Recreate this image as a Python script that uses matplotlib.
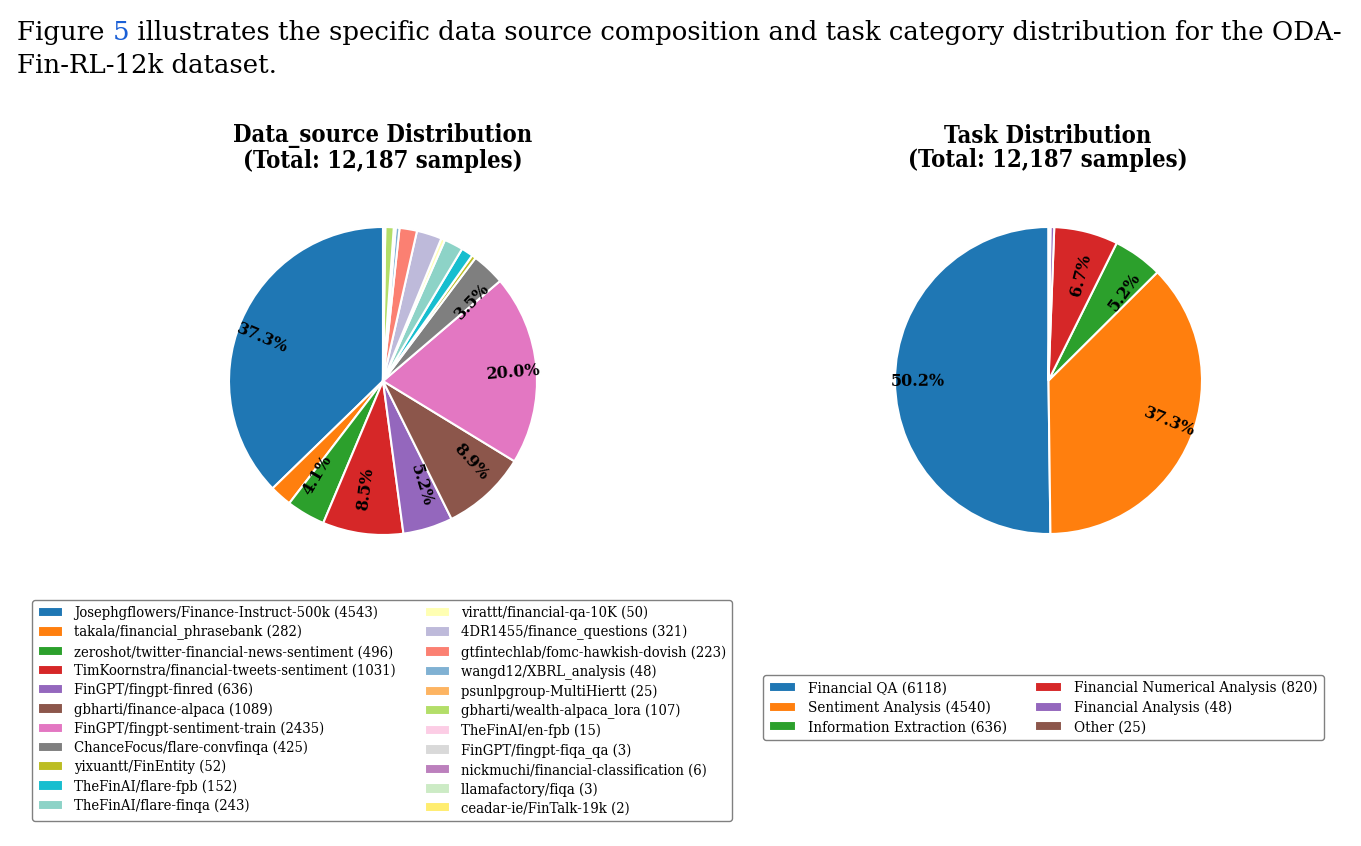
import numpy as np
import matplotlib
matplotlib.use('Agg')
from matplotlib import pyplot as plt

plt.rcParams['font.family'] = 'DejaVu Serif'
plt.rcParams['font.stretch'] = 'condensed'

# data sources, counterclockwise from the top
sources = ['Josephgflowers/Finance-Instruct-500k', 'takala/financial_phrasebank',
           'zeroshot/twitter-financial-news-sentiment', 'TimKoornstra/financial-tweets-sentiment',
           'FinGPT/fingpt-finred', 'gbharti/finance-alpaca', 'FinGPT/fingpt-sentiment-train',
           'ChanceFocus/flare-convfinqa', 'yixuantt/FinEntity', 'TheFinAI/flare-fpb',
           'TheFinAI/flare-finqa', 'virattt/financial-qa-10K', '4DR1455/finance_questions',
           'gtfintechlab/fomc-hawkish-dovish', 'wangd12/XBRL_analysis', 'psunlpgroup-MultiHiertt',
           'gbharti/wealth-alpaca_lora', 'TheFinAI/en-fpb', 'FinGPT/fingpt-fiqa_qa',
           'nickmuchi/financial-classification', 'llamafactory/fiqa', 'ceadar-ie/FinTalk-19k']
source_counts = [4543, 282, 496, 1031, 636, 1089, 2435, 425, 52, 152,
                 243, 50, 321, 223, 48, 25, 107, 15, 3, 6, 3, 2]

tasks = ['Financial QA', 'Sentiment Analysis', 'Information Extraction',
         'Financial Numerical Analysis', 'Financial Analysis', 'Other']
task_counts = [6118, 4540, 636, 820, 48, 25]

fig = plt.figure(figsize=(13.61, 8.46), dpi=100)
W, H = 1361, 846

def px_axes(x0, y0, x1, y1):
    return fig.add_axes([x0 / W, 1 - y1 / H, (x1 - x0) / W, (y1 - y0) / H])

def draw_pie(ax, counts, colors):
    wedges, _, autotexts = ax.pie(counts, colors=colors, startangle=90, counterclock=True,
                                  autopct=lambda p: f'{p:.1f}%' if p > 3 else '',
                                  wedgeprops=dict(edgecolor='white', linewidth=1.5),
                                  textprops=dict(fontsize=11.5, fontweight='bold', stretch='normal'))
    # percent labels turned along the radius
    for w, t in zip(wedges, autotexts):
        ang = (w.theta1 + w.theta2) / 2
        rot = ang
        if 90 < ang % 360 < 270:
            rot += 180
        a = np.deg2rad(ang)
        t.set_position((0.85 * np.cos(a), 0.71 * np.sin(a)))
        t.set_rotation(rot)
        t.set_rotation_mode('anchor')
        t.set_ha('center')
        t.set_va('center')
    ax.set_xlim(-1, 1)
    ax.set_ylim(-1, 1)
    ax.set_aspect('auto')
    return wedges

src_colors = list(plt.cm.tab10.colors) + list(plt.cm.Set3.colors)
ax1 = px_axes(229, 227, 537, 535)
w1 = draw_pie(ax1, source_counts, src_colors)

ax2 = px_axes(895, 227, 1202, 534)
w2 = draw_pie(ax2, task_counts, list(plt.cm.tab10.colors))

total = sum(source_counts)
fig.text(383 / W, 1 - 148 / H, f'Data_source Distribution\n(Total: {total:,} samples)',
         ha='center', va='center', fontsize=17, fontweight='bold', linespacing=1.05)
fig.text(1048 / W, 1 - 148 / H, f'Task Distribution\n(Total: {sum(task_counts):,} samples)',
         ha='center', va='center', fontsize=17, fontweight='bold', linespacing=1.05)

leg1 = fig.legend(w1, [f'{s} ({c})' for s, c in zip(sources, source_counts)],
                  loc='upper left', bbox_to_anchor=(32 / W, 1 - 600 / H), ncol=2,
                  fontsize=10.6, labelspacing=0.33, columnspacing=2.0,
                  handlelength=1.7, handletextpad=0.75, borderpad=0.4, borderaxespad=0,
                  edgecolor='0.5', fancybox=True, framealpha=1)
leg2 = fig.legend(w2, [f'{t} ({c})' for t, c in zip(tasks, task_counts)],
                  loc='upper left', bbox_to_anchor=(763 / W, 1 - 675 / H), ncol=2,
                  fontsize=10.9, labelspacing=0.35, columnspacing=1.8,
                  handlelength=1.8, handletextpad=0.8, borderpad=0.4, borderaxespad=0,
                  edgecolor='0.5', fancybox=True, framealpha=1)

# caption text from the paper page, sized to span the line
cap_kw = dict(family='DejaVu Serif', stretch='normal', va='baseline')
line1 = ' illustrates the specific data source composition and task category distribution for the ODA-'
fig.canvas.draw()
r = fig.canvas.get_renderer()
probe = fig.text(17 / W, 0.5, 'Figure 5' + line1, fontsize=10, **cap_kw)
fs = 10 * (1345 - 17) / probe.get_window_extent(r).width
probe.remove()

y1 = 1 - 40 / H
t_a = fig.text(17 / W, y1, 'Figure ', fontsize=fs, **cap_kw)
x = t_a.get_window_extent(r).x1
t_b = fig.text(x / W, y1, '5', color='#1a5fd6', fontsize=fs, **cap_kw)
x = t_b.get_window_extent(r).x1
fig.text(x / W, y1, line1, fontsize=fs, **cap_kw)
fig.text(17 / W, 1 - 73 / H, 'Fin-RL-12k dataset.', fontsize=fs, **cap_kw)

fig.savefig('out.png', dpi=100)
